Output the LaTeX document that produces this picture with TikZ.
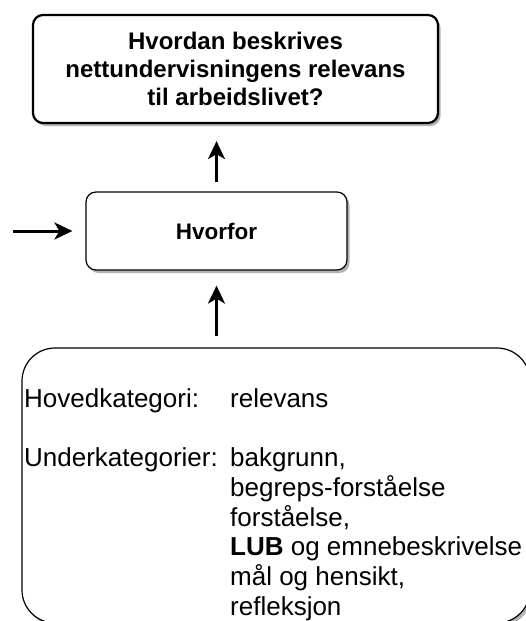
\documentclass[tikz,border=0pt]{standalone}
\usepackage{fontspec}
\setmainfont{Liberation Sans}
\usetikzlibrary{arrows.meta,shadows}

\tikzset{
box/.style={rectangle, rounded corners=10pt, draw=black, fill=white,
line width=1.2pt, align=center,
drop shadow={shadow xshift=2.5pt, shadow yshift=-3pt, opacity=0.3, fill=black}},
qbox/.style={box, line width=2.2pt, font=\fontsize{24}{28}\selectfont\bfseries},
flow/.style={line width=3pt, -{Stealth[length=18pt, width=17pt, inset=5pt]}}
}

\begin{document}
\begin{tikzpicture}[x=1pt, y=-1pt]
% pixel grid of the reference, y grows downwards
\useasboundingbox (0,0) rectangle (526,621);
\clip (0,0) rectangle (526,621);
	\node[qbox, minimum width=405pt, minimum height=108pt] (question) at (235.5,69)
		{Hvordan beskrives\\nettundervisningens relevans\\til arbeidslivet?};
	\node[box, minimum width=261pt, minimum height=78pt,
		font=\fontsize{22.5}{27}\selectfont\bfseries] (why) at (216.5,231) {Hvorfor};
	\node[box, rounded corners=33pt, minimum width=508pt, minimum height=275pt] (cats) at (276,485.5) {};
	\node[anchor=base west, inner sep=0pt, font=\fontsize{26}{29.7}\selectfont] (catstext) at (24,407)
		{\begin{tabular}[t]{@{}p{206pt}@{}l@{}}
		Hovedkategori: & relevans\\
		& \\
		Underkategorier: & bakgrunn,\\
		& begreps-forståelse\\
		& forståelse,\\
		& \textbf{LUB} og emnebeskrivelse\\
		& mål og hensikt,\\
		& refleksjon
		\end{tabular}};
	\coordinate (input) at (13,231);
\draw[flow, shorten <=9pt, shorten >=17pt] (why.north) -- (why.north |- question.south);
\draw[flow, shorten <=11pt, shorten >=15pt] (cats.north -| why) -- (why.south);
\draw[flow, shorten >=13pt] (input) -- (why.west);
\end{tikzpicture}
\end{document}
